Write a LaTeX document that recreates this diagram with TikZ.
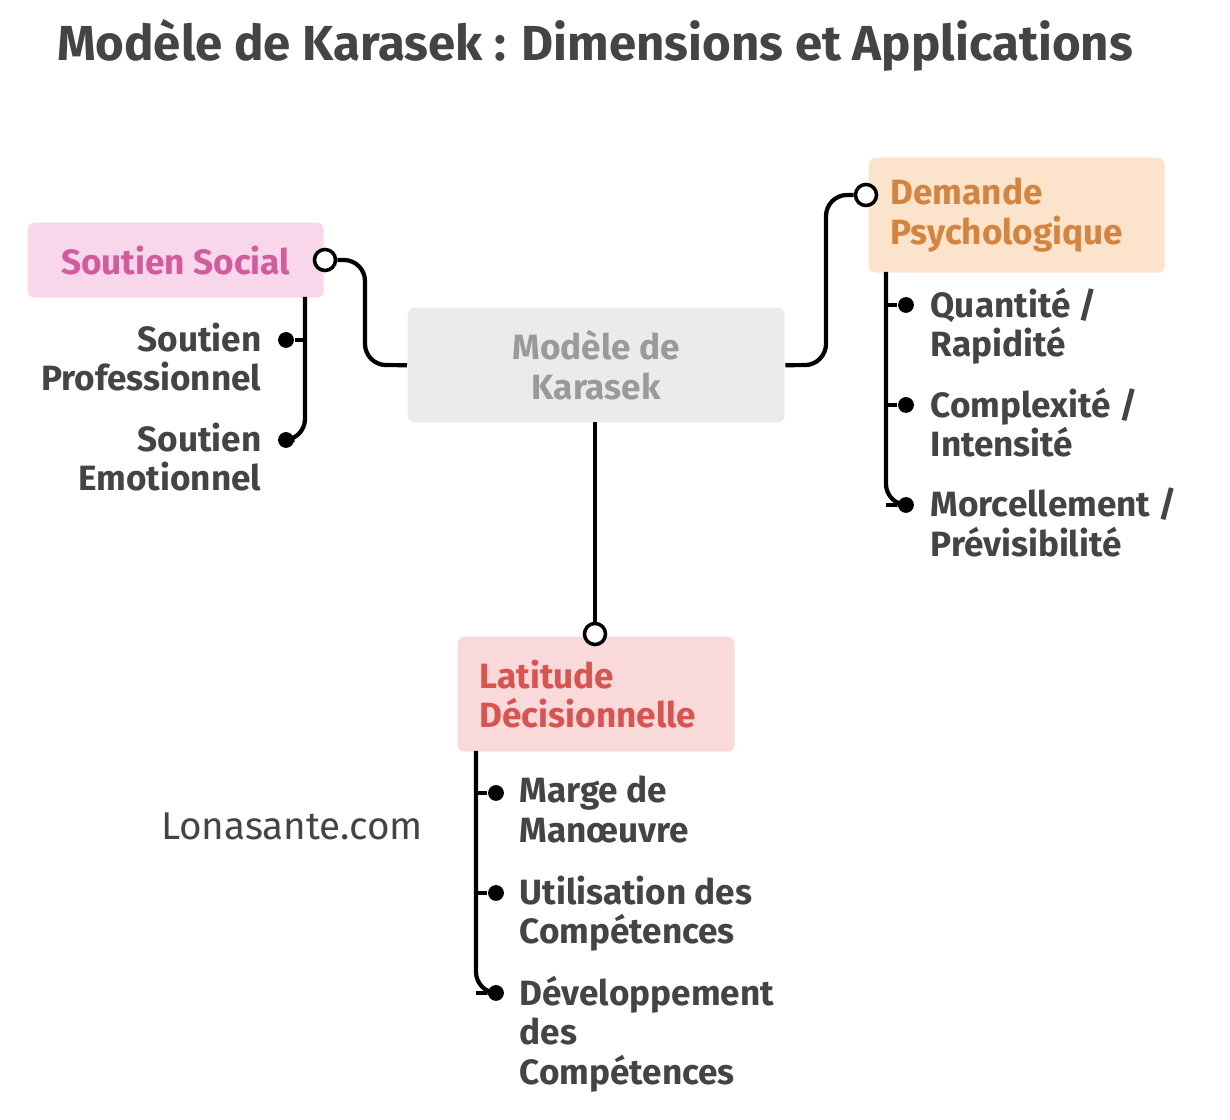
\documentclass[tikz,border=0pt]{standalone}
\usepackage{fontspec}
\setmainfont{Fira Sans}
\usepackage{tikz}
\definecolor{ink}{HTML}{444444}
\definecolor{pinkbg}{HTML}{F8D7EA}
\definecolor{pinkfg}{HTML}{D45A9E}
\definecolor{greybg}{HTML}{EBEBEB}
\definecolor{greyfg}{HTML}{9A9A9A}
\definecolor{orangebg}{HTML}{FCE4CC}
\definecolor{orangefg}{HTML}{D4843E}
\definecolor{redbg}{HTML}{F9D9D9}
\definecolor{redfg}{HTML}{D9534F}
\tikzset{
  box/.style={rectangle, rounded corners=2pt, inner sep=0pt, anchor=north west},
  lbl/.style={font=\bfseries\fontsize{10}{11.3}\selectfont, align=left, inner sep=0pt},
  item/.style={font=\bfseries\fontsize{10}{11.3}\selectfont, text=ink, inner sep=0pt},
  wire/.style={line width=1.2pt, rounded corners=6pt},
  dot/.style={circle, fill=black, inner sep=0pt, minimum size=4.5pt},
  ring/.style={circle, draw=black, fill=white, line width=1pt, inner sep=0pt, minimum size=6pt}
}
\begin{document}
\begin{tikzpicture}[x=0.1mm, y=-0.1mm]
  \useasboundingbox (0,0) rectangle (1230,1120);
  \node (title) [font=\bfseries\fontsize{14}{16}\selectfont, text=ink] at (595,45)
    {Modèle de Karasek : Dimensions et Applications};
  % boxes
  \node (social) [box, fill=pinkbg, minimum width=29.6mm, minimum height=7.5mm] at (27,222) {};
  \node [lbl, text=pinkfg] at (social.center) {Soutien Social};
  \node (model) [box, fill=greybg, minimum width=37.7mm, minimum height=11.5mm] at (407,307) {};
  \node [lbl, text=greyfg, align=center] at (model.center) {Modèle de\\Karasek};
  \node (demand) [box, fill=orangebg, minimum width=29.6mm, minimum height=11.5mm] at (868,157) {};
  \node [lbl, text=orangefg, anchor=west] at (890,215) {Demande\\Psychologique};
  \node (latitude) [box, fill=redbg, minimum width=27.7mm, minimum height=11.5mm] at (457,636) {};
  \node [lbl, text=redfg, anchor=west] at (479,694) {Latitude\\Décisionnelle};
  % links from the centre
  \node (rs) [ring] at (325,260) {};
  \node (rd) [ring] at (866,195) {};
  \node (rl) [ring] at (595,634) {};
  \draw[wire] (model.west) -- (365,365) -- (365,260) -- (rs);
  \draw[wire] (model.east) -- (826,365) -- (826,195) -- (rd);
  \draw[wire] (595,422) -- (rl);
  % soutien social
  \node (s1) [dot] at (286,340) {};
  \node (s2) [dot] at (286,440) {};
  \draw[wire] (305,297) -- (305,440) -- (s2);
  \draw[wire] (305,340) -- (s1);
  \node [item, align=right, anchor=north east] at (262,322) {Soutien\\Professionnel};
  \node [item, align=right, anchor=north east] at (262,422) {Soutien\\Emotionnel};
  % demande
  \foreach \n/\y/\t in {d1/305/{Quantité /\\Rapidité}, d2/405/{Complexité /\\Intensité}, d3/505/{Morcellement /\\Prévisibilité}} {
    \node (\n) [dot] at (906,\y) {};
    \draw[wire] (886,\y) -- (\n);
    \node [item, align=left, anchor=north west] at (930,\y-18) {\t};
  }
  \draw[wire] (886,272) -- (886,505) -- (d3);
  % latitude
  \foreach \n/\y/\t in {l1/793/{Marge de\\Manœuvre}, l2/893/{Utilisation des\\Compétences}, l3/993/{Développement\\des\\Compétences}} {
    \node (\n) [dot] at (496,\y) {};
    \draw[wire] (476,\y) -- (\n);
    \node [item, align=left, anchor=north west] at (519,\y-18) {\t};
  }
  \draw[wire] (476,751) -- (476,993) -- (l3);
  \node (site) [font=\fontsize{11}{13}\selectfont, text=ink] at (292,826) {Lonasante.com};
\end{tikzpicture}
\end{document}
